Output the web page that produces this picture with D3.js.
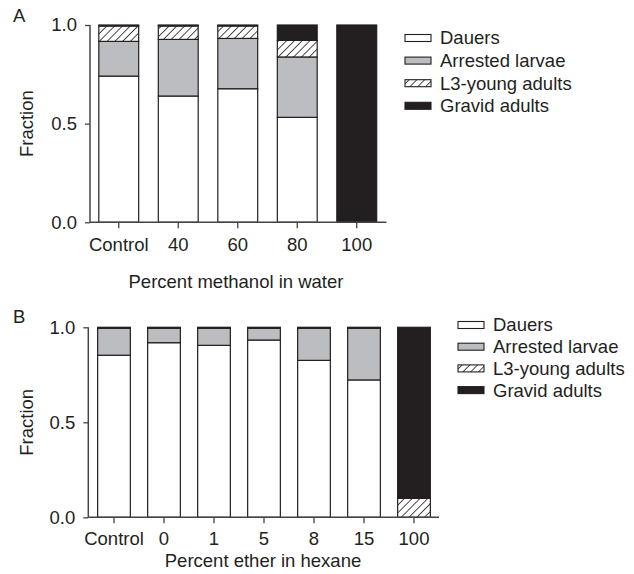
<!DOCTYPE html>
<html>
<head>
<meta charset="utf-8">
<script src="https://cdn.jsdelivr.net/npm/d3@7"></script>
<style>
    body { margin: 0; background: #fff; }
    svg { display: block; font-family: "Liberation Sans", Arial, sans-serif; }
    text { fill: #231f20; }
</style>
</head>
<body>
<svg id="chart" width="634" height="574"></svg>
<script>
// stage names
const stages = ["dauers", "arrested", "l3", "gravid"];
const stageLabels = ["Dauers", "Arrested larvae", "L3-young adults", "Gravid adults"];

// panel A: methanol
const catsA = ["Control", "40", "60", "80", "100"];
const dauersA   = [0.741, 0.640, 0.677, 0.532, 0];
const arrestedA = [0.176, 0.287, 0.255, 0.306, 0];
const l3A       = [0.078, 0.068, 0.063, 0.084, 0];
const gravidA   = [0.005, 0.005, 0.005, 0.078, 1.0];

// panel B: ether
const catsB = ["Control", "0", "1", "5", "8", "15", "100"];
const dauersB   = [0.853, 0.919, 0.905, 0.933, 0.826, 0.723, 0];
const arrestedB = [0.142, 0.076, 0.090, 0.062, 0.169, 0.272, 0];
const l3B       = [0, 0, 0, 0, 0, 0, 0.100];
const gravidB   = [0.005, 0.005, 0.005, 0.005, 0.005, 0.005, 0.900];

const yTicks = [0, 0.5, 1.0];

const ink = "#231f20";
const fs = 18.5;
const fills = { dauers: "#ffffff", arrested: "#bcbdc0", l3: "url(#hatch)", gravid: ink };

const svg = d3.select("#chart");

// diagonal hatch for L3-young adults
const pat = svg.append("defs").append("pattern")
    .attr("id", "hatch").attr("patternUnits", "userSpaceOnUse")
    .attr("width", 5.5).attr("height", 5.5)
    .attr("patternTransform", "rotate(45)");
pat.append("rect").attr("width", 5.5).attr("height", 5.5).attr("fill", "#fff");
pat.append("line").attr("x1", 0).attr("y1", 0).attr("x2", 0).attr("y2", 5.5)
    .attr("stroke", ink).attr("stroke-width", 1.6);

function drawPanel(opt) {
    const rows = opt.cats.map((c, i) => ({
        cat: c,
        dauers: opt.dauers[i],
        arrested: opt.arrested[i],
        l3: opt.l3[i],
        gravid: opt.gravid[i]
    }));

    const x = d3.scaleBand().domain(opt.cats)
        .range([opt.x0, opt.x1]).paddingInner(opt.pad).paddingOuter(opt.pad / 2);
    const y = d3.scaleLinear().domain([0, 1]).range([opt.yBottom, opt.yTop]);

    const g = svg.append("g");

    const series = d3.stack().keys(stages)(rows);

    g.append("g").selectAll("g").data(series).join("g")
        .attr("fill", d => fills[d.key])
        .selectAll("rect")
        .data(d => d.filter(s => s[1] - s[0] > 0))
        .join("rect")
        .attr("x", d => x(d.data.cat))
        .attr("width", x.bandwidth())
        .attr("y", d => y(d[1]))
        .attr("height", d => y(d[0]) - y(d[1]))
        .attr("stroke", ink)
        .attr("stroke-width", 1.2);

    // y axis
    const ya = g.append("g").attr("transform", `translate(${opt.axisX},0)`)
        .call(d3.axisLeft(y).tickValues(yTicks).tickFormat(d3.format(".1f")).tickSize(5).tickPadding(8).tickSizeOuter(0));
    ya.select(".domain").attr("stroke", "#444").attr("stroke-width", 1.5)
        .attr("d", `M0,${opt.yBottom}V${opt.yTop}`);
    ya.selectAll(".tick line").attr("stroke", "#444").attr("stroke-width", 1.3);
    ya.selectAll(".tick text").attr("font-size", fs).attr("fill", ink);

    // x axis
    const xa = g.append("g").attr("transform", `translate(0,${opt.yBottom})`)
        .call(d3.axisBottom(x).tickSize(6).tickPadding(opt.xPad).tickSizeOuter(0));
    xa.select(".domain").attr("stroke", "#444").attr("stroke-width", 1.5)
        .attr("d", `M${opt.axisX},0H${opt.x1}`);
    xa.selectAll(".tick line").attr("stroke", "#444").attr("stroke-width", 1.3);
    xa.selectAll(".tick text").attr("font-size", fs).attr("fill", ink);

    // titles
    g.append("text").attr("x", opt.titleX).attr("y", opt.titleY)
        .attr("text-anchor", "middle").attr("font-size", fs).text(opt.title);
    g.append("text")
        .attr("transform", `translate(33,${(opt.yTop + opt.yBottom) / 2}) rotate(-90)`)
        .attr("text-anchor", "middle").attr("font-size", fs).text("Fraction");
    g.append("text").attr("x", 13).attr("y", opt.letterY)
        .attr("font-size", fs).text(opt.letter);

    // legend
    const leg = g.append("g").selectAll("g").data(stages).join("g")
        .attr("transform", (d, i) => `translate(${opt.legX},${opt.legY + i * opt.legStep})`);
    leg.append("rect").attr("x", 0).attr("y", -3.5).attr("width", 26).attr("height", 7)
        .attr("fill", d => fills[d]).attr("stroke", ink).attr("stroke-width", 1.1);
    leg.append("text").attr("x", 35).attr("dy", "0.35em").attr("font-size", fs)
        .text((d, i) => stageLabels[i]);
}

drawPanel({
    cats: catsA, dauers: dauersA, arrested: arrestedA, l3: l3A, gravid: gravidA,
    x0: 89, x1: 386.5, pad: 0.33, axisX: 90, yTop: 25, yBottom: 222.3, xPad: 10,
    title: "Percent methanol in water", titleX: 236, titleY: 288,
    letter: "A", letterY: 22,
    legX: 405, legY: 38, legStep: 22.6
});

drawPanel({
    cats: catsB, dauers: dauersB, arrested: arrestedB, l3: l3B, gravid: gravidB,
    x0: 89, x1: 439, pad: 0.346, axisX: 88.3, yTop: 327.3, yBottom: 517.3, xPad: 9,
    title: "Percent ether in hexane", titleX: 263, titleY: 567,
    letter: "B", letterY: 323,
    legX: 458, legY: 325, legStep: 21.7
});
</script>
</body>
</html>
